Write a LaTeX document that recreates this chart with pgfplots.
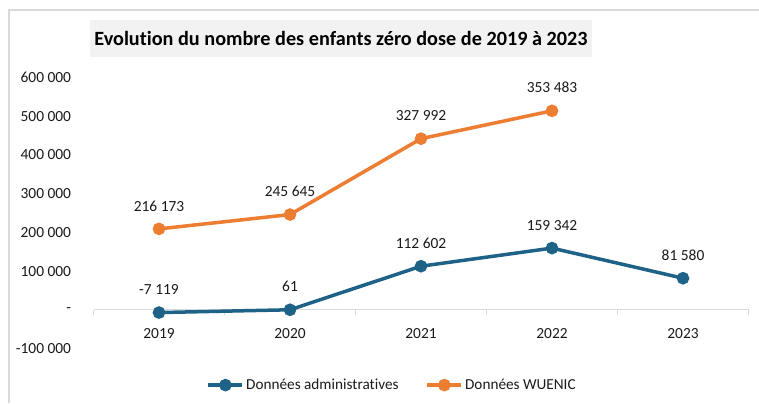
\documentclass[border=0pt]{standalone}
\usepackage{fontspec}
\setmainfont{Carlito}[Ligatures={NoCommon}]
\usepackage{pgfplots}
\pgfplotsset{compat=1.18}
\definecolor{cblue}{HTML}{1F6287}
\definecolor{corange}{HTML}{ED7D31}
\definecolor{axgray}{HTML}{D9D9D9}
\definecolor{titlebg}{HTML}{F2F2F2}
\definecolor{txt}{HTML}{1A1A1A}
\begin{document}
\begin{tikzpicture}[x=1bp,y=1bp]
\useasboundingbox (0,0) rectangle (759,-403);
\draw[axgray, line width=1.5bp] (9,-403) -- (9,-10) -- (759,-10);
\node[fill=titlebg, minimum width=502bp, minimum height=37bp, inner sep=0,
      font=\bfseries\fontsize{20.3}{24}\selectfont] at (341,-38.5)
      {Evolution du nombre des enfants zéro dose de 2019 à 2023};
\begin{axis}[
  at={(93.5bp,-348.5bp)}, anchor=south west,
  scale only axis, width=655bp, height=271bp,
  xmin=-0.5, xmax=4.5, ymin=-100000, ymax=600000,
  scaled y ticks=false,
  axis x line*=middle, axis y line*=left,
  x axis line style={-, draw=axgray, line width=1bp},
  y axis line style={draw=none},
  xtick={0,1,2,3,4},
  xticklabels={2019,2020,2021,2022,2023},
  minor xtick={-0.5,0.5,1.5,2.5,3.5,4.5},
  major x tick style={draw=none},
  minor x tick style={draw=axgray, line width=1bp},
  minor tick length=5bp,
  tick align=outside,
  ytick={-100000,0,100000,200000,300000,400000,500000,600000},
  yticklabels={-100 000,-,100 000,200 000,300 000,400 000,500 000,600 000},
  ytick style={draw=none},
  /pgf/number format/assume math mode=true,
  xticklabel style={font=\fontsize{15.5}{18}\selectfont, text=txt, anchor=north, inner sep=0, yshift=-14bp},
  yticklabel style={font=\fontsize{15.5}{18}\selectfont, text=txt, anchor=east, inner sep=0, xshift=-18bp},
  clip=false,
  nodes near coords,
  point meta=explicit symbolic,
  every node near coord/.append style={font=\fontsize{15.5}{18}\selectfont, text=txt, anchor=south, inner sep=0, yshift=16bp},
  legend style={at={(0.456,-0.135)}, anchor=center, draw=none, fill=none,
    legend columns=2, font=\fontsize{15.3}{18}\selectfont, text=txt,
    /tikz/every even column/.append style={column sep=25bp}},
  legend image code/.code={\draw[#1, mark=none] (0bp,0bp) -- (34bp,0bp);
    \draw[#1, only marks] plot coordinates {(17bp,0bp)};},
]
\addplot[cblue, line width=3.5bp, mark=*, mark size=4.5bp, mark options={solid}]
  coordinates {(0,-7119)[-7 119] (1,61)[61] (2,112602)[112 602] (3,159342)[159 342] (4,81580)[81 580]};
\addlegendentry{Données administratives}
\addplot[corange, line width=3.5bp, mark=*, mark size=4.5bp, mark options={solid}]
  coordinates {(0,209000)[216 173] (1,246000)[245 645] (2,442000)[327 992] (3,514000)[353 483]};
\addlegendentry{Données WUENIC}
\end{axis}
\end{tikzpicture}
\end{document}
